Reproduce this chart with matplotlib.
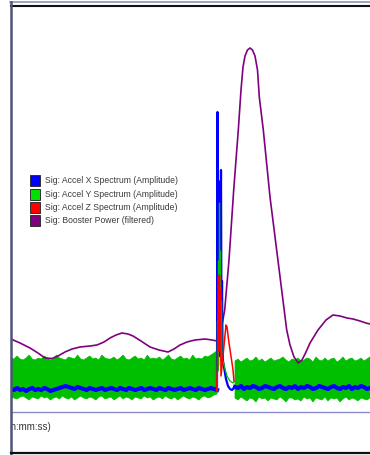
import numpy as np
import matplotlib
matplotlib.use("Agg")
import matplotlib.pyplot as plt
from matplotlib.lines import Line2D

W, H = 370, 455

# time in samples (0..359), amplitude in arbitrary units (0 = axis line)
# Booster Power (filtered)
power_t = [0, 9, 19, 27, 34, 41, 47, 54, 61, 69, 79, 86, 93, 99, 105, 111, 117, 122,
           130, 139, 148, 157, 163, 169, 176, 184, 194, 201, 206, 209, 211, 213.7, 218,
           222.7, 227.3, 230, 232, 234, 236.5, 239, 241.5, 244, 246.5, 248.3, 252.3, 259,
           267.3, 275.7, 279, 283, 287.3, 291, 295, 299, 307, 315, 322, 329, 336, 342,
           349, 355, 359]
power_v = [72, 68, 63, 58, 53, 52.5, 55, 59, 62, 64, 65, 66, 69, 73, 76, 78, 77, 75,
           70, 64, 61, 59, 62, 66, 69, 71, 72, 71, 70, 73, 86, 101, 151,
           221, 281, 321, 344, 355, 361, 363, 361, 355, 341, 314, 281, 214,
           148, 81, 66, 54, 48, 51, 59, 68, 81, 91, 96, 95, 93, 92,
           90, 88, 87]

# Accel Y spectrum band (before / after the event)
y_up_left = [53, 52, 55, 52, 51, 53, 56, 52, 51, 53, 52, 55, 53, 51, 52, 56, 53, 52, 51, 54,
             53, 52, 56, 52, 51, 53, 55, 52, 53, 51, 56, 53, 52, 52, 54, 51, 53, 56, 52, 51,
             53, 55, 52, 53, 51, 56, 52, 53, 52, 54, 51, 53, 56, 52, 51, 53, 55, 52, 53, 51,
             56, 52, 53, 52, 55, 54, 56, 58, 60]
y_lo_left = [14, 13, 12, 14, 15, 13, 11, 14, 13, 12, 15, 13, 14, 11, 13, 14, 12, 15, 13, 12,
             14, 11, 13, 15, 13, 12, 14, 13, 11, 14, 15, 12, 13, 14, 11, 13, 15, 12, 14, 13,
             11, 14, 13, 12, 15, 13, 14, 11, 13, 14, 12, 15, 13, 12, 14, 11, 13, 15, 13, 12,
             14, 13, 11, 14, 15, 13, 14, 16, 17]
y_up_right = [50, 52, 49, 51, 53, 50, 51, 54, 50, 52, 49, 51, 53, 50, 51, 52, 54, 51, 49, 52,
              51, 53, 50, 51, 53, 52, 49, 54, 51, 50, 53, 50, 52, 53, 49, 51, 54, 50, 52, 53,
              50, 51, 53, 50, 52, 54]
y_lo_right = [13, 11, 14, 12, 10, 13, 12, 9, 14, 12, 13, 10, 13, 12, 11, 14, 12, 9, 13, 13,
              11, 12, 10, 14, 12, 13, 9, 13, 12, 11, 14, 10, 13, 12, 13, 9, 12, 14, 11, 13,
              12, 10, 13, 12, 11, 13]
y_spike_t = [206, 206.5, 207, 207.5, 208, 208.5, 209, 209.5, 210, 210.5, 211, 212, 214, 216, 219, 222, 224]
y_spike_v = [20, 90, 40, 150, 60, 208, 70, 160, 50, 110, 45, 50, 42, 35, 30, 28, 30]

# Accel X spectrum
x_left = [22, 21, 23, 21, 22, 20, 22, 23, 21, 22, 21, 23, 22, 20, 21, 22, 23, 24, 25, 24,
          23, 22, 24, 23, 22, 21, 23, 22, 21, 22, 23, 21, 22, 23, 22, 21, 23, 22, 21, 23,
          22, 21, 22, 23, 21, 22, 23, 22, 21, 23, 22, 21, 23, 22, 21, 22, 23, 21, 22, 23,
          22, 21, 23, 22, 21, 22, 23, 22, 21]
x_right = [24, 23, 25, 22, 24, 23, 25, 24, 22, 23, 25, 24, 23, 22, 24, 25, 23, 22, 24, 23,
           25, 22, 24, 23, 25, 24, 22, 23, 25, 24, 23, 22, 24, 25, 23, 22, 24, 23, 25, 22,
           24, 23, 25, 24, 22, 23]
x_spike_t = [206, 206.5, 207, 207.5, 208, 208.5, 209, 209.5, 210, 210.5, 211, 211.5, 212,
             213, 214, 215, 217, 219, 221, 224]
x_spike_v = [22, 299, 45, 230, 60, 200, 55, 185, 241, 70, 130, 61, 50, 44, 38, 32, 25, 22, 21, 24]

# Accel Z spectrum (only visible at the event)
z_t = [205.5, 206.5, 207, 207.5, 208, 208.5, 209, 209.5, 210, 212, 215, 216, 218, 221, 222, 223]
z_v = [20, 44, 90, 135, 60, 136, 70, 120, 35, 55, 86, 84, 68, 48, 41, 30]

labels = ["Sig: Accel X Spectrum (Amplitude)", "Sig: Accel Y Spectrum (Amplitude)",
          "Sig: Accel Z Spectrum (Amplitude)", "Sig: Booster Power (filtered)"]

BLUE, GREEN, RED, PURPLE = "#0000ff", "#00bf00", "#ff0000", "#800080"

plt.rcParams['font.family'] = ['Liberation Sans', 'DejaVu Sans']

fig = plt.figure(figsize=(W / 100, H / 100), dpi=100)
fig.patch.set_facecolor("white")

def fx(px):
    return px / W

def fy(py):
    return 1 - py / H

ax = fig.add_axes([fx(11), fy(411), fx(370) - fx(11), fy(7) - fy(411)])
ax.set_xlim(0, 359)
ax.set_ylim(0, 404)
ax.axis("off")

tl_up = np.linspace(0, 206, len(y_up_left))
tl_lo = np.linspace(0, 206, len(y_lo_left))
tr_up = np.linspace(224, 359, len(y_up_right))
tr_lo = np.linspace(224, 359, len(y_lo_right))
ax.fill(np.r_[tl_up, tl_lo[::-1]], np.r_[y_up_left, y_lo_left[::-1]], color=GREEN, lw=0.5, zorder=1)
ax.fill(np.r_[tr_up, tr_lo[::-1]], np.r_[y_up_right, y_lo_right[::-1]], color=GREEN, lw=0.5, zorder=1)

ax.plot(power_t, power_v, color=PURPLE, lw=1.2, zorder=2)

ax.plot(np.linspace(0, 206, len(x_left)), x_left, color=BLUE, lw=3.0, zorder=4)
ax.plot(np.linspace(224, 359, len(x_right)), x_right, color=BLUE, lw=3.0, zorder=4)
ax.plot(x_spike_t, x_spike_v, color=BLUE, lw=1.6, zorder=4)

# at the event the Y and Z traces show through the X spike
ax.plot(y_spike_t, y_spike_v, color=GREEN, lw=0.9, zorder=5)
ax.plot(z_t, z_v, color=RED, lw=1.1, zorder=6)

ax.axhline(-1, color="#8a8ac8", lw=1.0, clip_on=False, zorder=5)

# legend, drawn like the original one
for i, (c, lab) in enumerate(zip((BLUE, "#00e000", RED, PURPLE), labels)):
    yc = 180.7 + 13.4 * i
    fig.add_artist(plt.Rectangle((fx(30), fy(yc + 5.5)), fx(10), 11 / H, facecolor=c,
                                 edgecolor="#303030", lw=0.7, transform=fig.transFigure))
    fig.text(fx(45), fy(yc), lab, ha="left", va="center", fontsize=6.2, color="#3a3a3a")

fig.text(fx(51), fy(427), "(hh:mm:ss)", ha="right", va="center", fontsize=7, color="#333333")

# window frame
fig.add_artist(plt.Rectangle((0, 0), fx(10), 1, color="white", transform=fig.transFigure, zorder=9))
fig.add_artist(Line2D([fx(10), 1], [fy(2), fy(2)], color="#8796b4", lw=1.2, zorder=10))
fig.add_artist(Line2D([fx(11), 1], [fy(5.8), fy(5.8)], color="#101010", lw=1.5, zorder=10))
fig.add_artist(Line2D([fx(11), fx(11)], [fy(2), 0], color="#4b5775", lw=1.8, zorder=10))
fig.add_artist(Line2D([fx(11), 1], [fy(452.5), fy(452.5)], color="#101010", lw=1.6, zorder=10))

fig.savefig("out.png", dpi=100)
